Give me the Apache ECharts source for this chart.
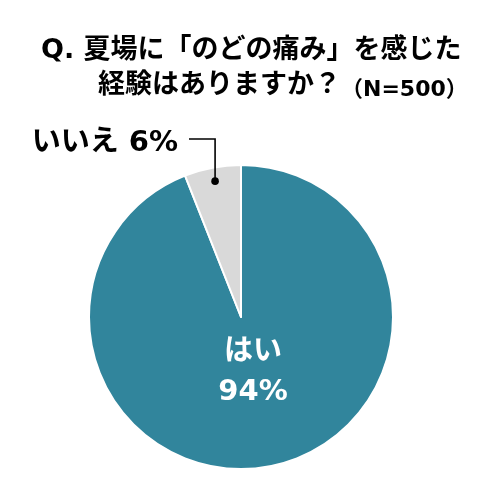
<!DOCTYPE html>
<html>
<head>
<meta charset="utf-8">
<script src="https://cdn.jsdelivr.net/npm/echarts@6/dist/echarts.min.js"></script>
<style>
  html, body { margin: 0; padding: 0; background: #fff; }
  #main { width: 491px; height: 503px; }
</style>
</head>
<body>
<div id="main"></div>
<script>
var answers = ['はい', 'いいえ'];
var percents = [94, 6];
var colors = ['#31859C', '#D9D9D9'];

var FONT = '"DejaVu Sans", "Noto Sans CJK JP", sans-serif';

var chart = echarts.init(document.getElementById('main'));

var pieData = [];
for (var i = 0; i < answers.length; i++) {
  pieData.push({
    name: answers[i],
    value: percents[i],
    itemStyle: { color: colors[i] }
  });
}

var option = {
  backgroundColor: '#fff',
  animation: false,
  title: [
    {
      text: 'Q. 夏場に「のどの痛み」を感じた',
      left: 36,
      top: 29,
      textStyle: { fontFamily: FONT, fontSize: 27, fontWeight: 'bold', color: '#000', lineHeight: 34 }
    },
    {
      text: '経験はありますか？{n|（N=500）}',
      left: 93,
      top: 64,
      textStyle: {
        fontFamily: FONT, fontSize: 27, fontWeight: 'bold', color: '#000', lineHeight: 34,
        rich: {
          n: { fontFamily: FONT, fontSize: 22, fontWeight: 'bold', color: '#000', lineHeight: 34, padding: [8, 0, 0, 0] }
        }
      }
    }
  ],
  series: [
    {
      type: 'pie',
      center: [241, 317],
      radius: 152,
      startAngle: 90,
      clockwise: true,
      avoidLabelOverlap: false,
      itemStyle: { borderColor: '#fff', borderWidth: 2 },
      emphasis: { disabled: true },
      label: {
        show: true,
        position: 'inside',
        fontFamily: FONT,
        fontWeight: 'bold',
        formatter: function (p) {
          if (p.dataIndex === 0) return p.name + '\n' + p.value + '%';
          return p.name + ' ' + p.value + '%';
        }
      },
      labelLine: { show: false },
      labelLayout: function (p) {
        if (p.dataIndex === 0) {
          return { x: 253, y: 372, align: 'center', verticalAlign: 'middle' };
        }
        return { x: 178, y: 143, align: 'right', verticalAlign: 'middle' };
      },
      data: pieData
    }
  ]
};

// per-slice label colours and sizes
option.series[0].data[0].label = { color: '#fff', fontSize: 29, lineHeight: 40 };
option.series[0].data[1].label = { color: '#000', fontSize: 29, lineHeight: 30 };

chart.setOption(option);

// leader line for the small slice, anchored on the slice's own layout
var lay = chart.getModel().getSeriesByIndex(0).getData().getItemLayout(1);
var mid = (lay.startAngle + lay.endAngle) / 2;
var dx = lay.cx + lay.r * 0.91 * Math.cos(mid);
var dy = lay.cy + lay.r * 0.91 * Math.sin(mid);
var lineY = 139;
chart.setOption({
  graphic: [
    {
      type: 'polyline',
      shape: { points: [[dx, dy], [dx, lineY], [189, lineY]] },
      style: { stroke: '#000', lineWidth: 1.6, fill: null },
      z: 100
    },
    {
      type: 'circle',
      shape: { cx: dx, cy: dy, r: 3.8 },
      style: { fill: '#000' },
      z: 100
    }
  ]
});
</script>
</body>
</html>
